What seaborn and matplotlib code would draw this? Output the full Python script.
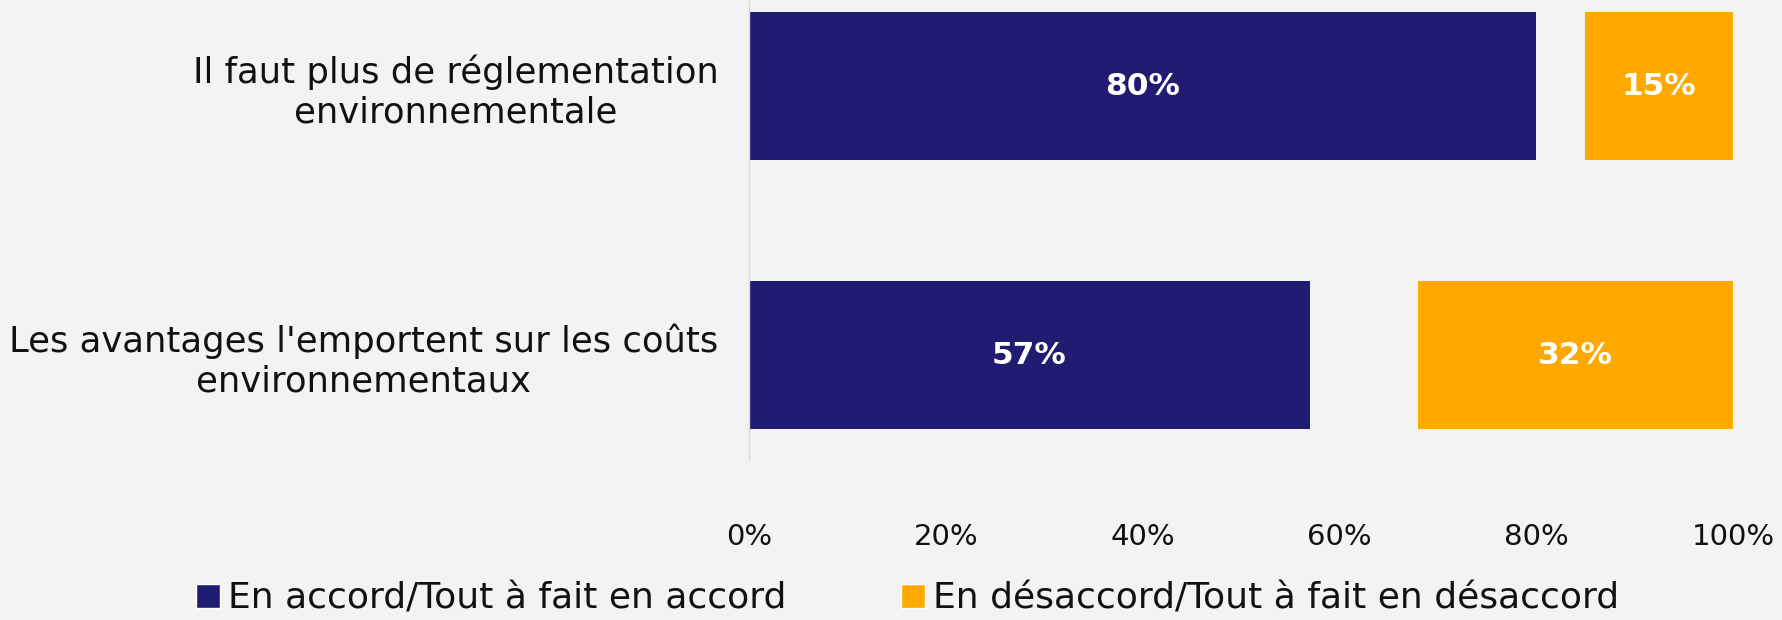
import numpy as np
import pandas as pd
import matplotlib.pyplot as plt
import seaborn as sns
from matplotlib.patches import Patch

# Données
questions = ["Il faut plus de réglementation\nenvironnementale",
             "Les avantages l'emportent sur les coûts\nenvironnementaux"]
accord = [80, 57]
desaccord = [15, 32]
serie_accord = "En accord/Tout à fait en accord"
serie_desaccord = "En désaccord/Tout à fait en désaccord"
ticks = [0, 20, 40, 60, 80, 100]

NAVY = "#1F1C72"
ORANGE = "#FFA800"
BG = "#F3F3F3"

sns.set_theme(style="white")
plt.rcParams['font.family'] = ['DejaVu Sans']

df = pd.DataFrame({"question": questions, "accord": accord, "desaccord": desaccord})

fig = plt.figure(figsize=(17.83, 6.2), dpi=100, facecolor=BG)
ax = fig.add_axes([0.42, 0.258, 0.552, 0.742])
ax.set_facecolor(BG)

sns.barplot(data=df, x="accord", y="question", color=NAVY, width=0.55,
            saturation=1, linewidth=0, ax=ax)
# barre "désaccord" alignée à droite (commence à 100 - valeur)
ypos = np.arange(len(questions))
ax.barh(ypos, df["desaccord"], left=100 - df["desaccord"], height=0.55,
        color=ORANGE, linewidth=0)

# étiquettes de valeurs
for i in range(len(questions)):
    ax.text(accord[i] / 2, i, f"{accord[i]}%", ha="center", va="center",
            color="white", fontsize=22.5, fontweight="bold")
    ax.text(100 - desaccord[i] / 2, i, f"{desaccord[i]}%", ha="center", va="center",
            color="white", fontsize=22.5, fontweight="bold")

ax.set_xlim(0, 100)
ax.set_ylim(1.39, -0.32)
ax.set_xticks(ticks)
ax.set_xticklabels([f"{t}%" for t in ticks])
ax.set_xlabel("")
ax.set_ylabel("")
ax.tick_params(axis="x", length=0, pad=45, labelsize=21, colors="#111111")
ax.tick_params(axis="y", length=0, pad=22, labelsize=25.5, colors="#111111")
for lab in ax.get_yticklabels():
    lab.set_multialignment("center")

for s in ["top", "right", "bottom"]:
    ax.spines[s].set_visible(False)
ax.spines["left"].set_color("#D9D9D9")
ax.spines["left"].set_linewidth(1)

handles = [Patch(facecolor=NAVY, label=serie_accord),
           Patch(facecolor=ORANGE, label=serie_desaccord)]
fig.legend(handles=handles, loc="center", bbox_to_anchor=(0.509, 0.034), ncol=2,
           frameon=False, fontsize=26, handlelength=0.66, handleheight=0.66,
           handletextpad=0.2, columnspacing=3.2, labelcolor="#111111")

fig.savefig("out.png", dpi=100, facecolor=BG)
